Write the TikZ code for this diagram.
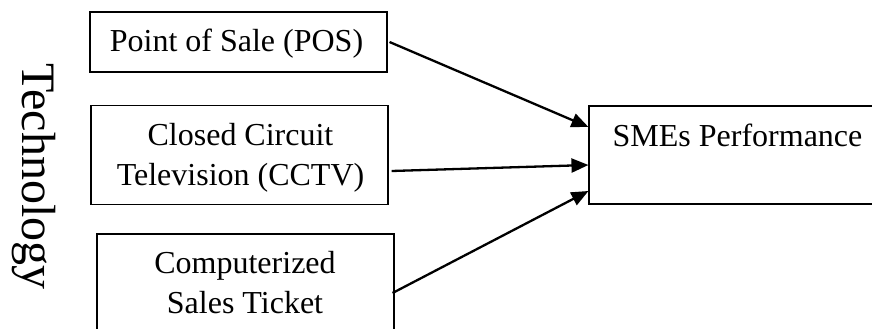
\documentclass[tikz,border=0pt]{standalone}
\usepackage{fontspec}
\setmainfont{Liberation Serif}
\usetikzlibrary{arrows.meta}
\begin{document}
\begin{tikzpicture}[x=1pt,y=-1pt,
  framebox/.style={draw=black, line width=1.1pt, inner sep=0pt, minimum width=297pt},
  boxtext/.style={anchor=base, inner sep=0pt, align=center, font=\fontsize{32}{40}\selectfont},
  link/.style={line width=2.3pt, -{Triangle[length=17pt,width=14pt]}}]
  \useasboundingbox (0,0) rectangle (872,329);
  \clip (0,0) rectangle (872,329);

  % side caption
  \node[anchor=base, inner sep=0pt, rotate=-90, font=\fontsize{48}{52}\selectfont] (tech) at (22,176.5) {Technology};

  % input boxes (the text's base is the baseline of its last line)
  \node[framebox, minimum height=60pt] (pos) at (238.5,42) {};
  \node[boxtext] (postext) at (236.5,52) {Point of Sale (POS)};

  \node[framebox, minimum height=99pt] (cctv) at (239.5,155) {};
  \node[boxtext] (cctvtext) at (240.5,185) {Closed Circuit\\Television (CCTV)};

  \node[framebox, minimum height=98pt] (cst) at (245.5,283) {};
  \node[boxtext] (csttext) at (245,313) {Computerized\\Sales Ticket};

  % outcome box
  \node[framebox, minimum width=300pt, minimum height=98pt] (sme) at (739,155) {};
  \node[boxtext] (smetext) at (737.5,146) {SMEs Performance};

  % relationships
  \draw[link] ([xshift=2pt]pos.east) -- ([yshift=28pt]sme.west);
  \draw[link] ([xshift=3pt,yshift=-16pt]cctv.east) -- ([yshift=-10pt]sme.west);
  \draw[link] ([xshift=-2pt,yshift=-10pt]cst.east) -- ([yshift=-36pt]sme.west);
\end{tikzpicture}
\end{document}
